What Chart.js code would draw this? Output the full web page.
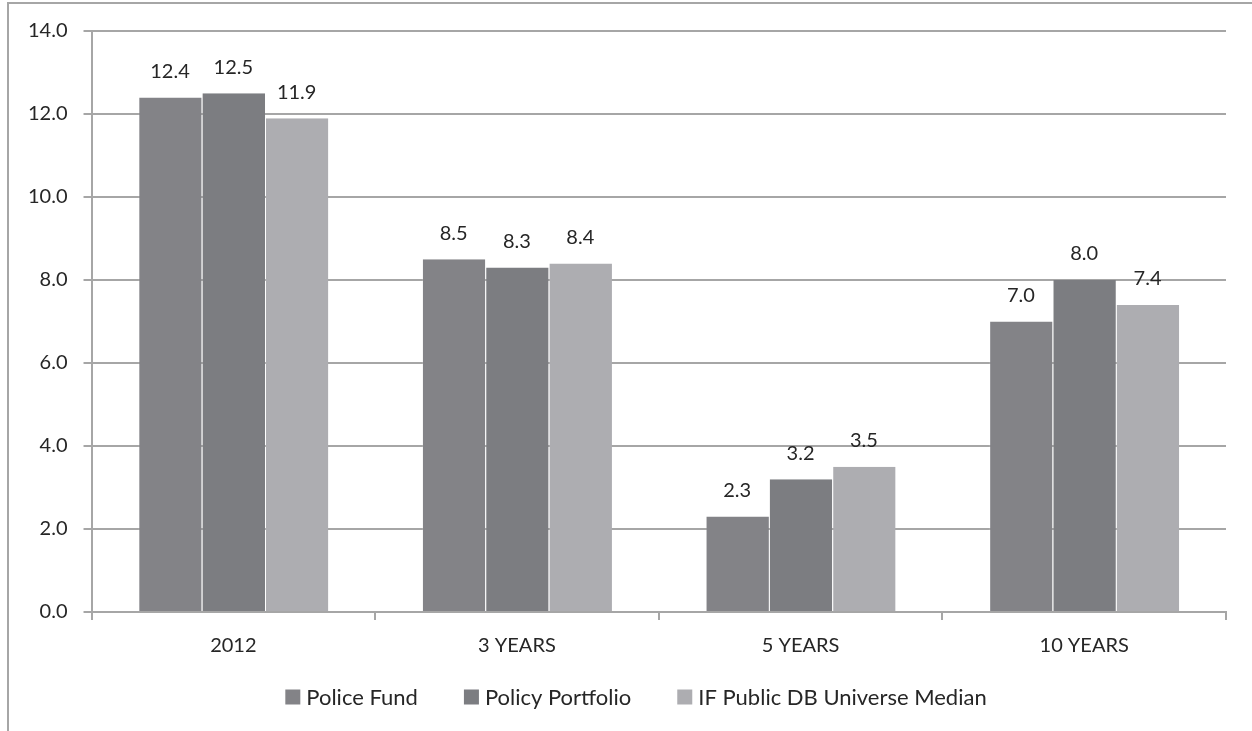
<!DOCTYPE html>
<html>
<head>
<meta charset="utf-8">
<script src="https://cdn.jsdelivr.net/npm/chart.js@4/dist/chart.umd.min.js"></script>
<style>
  html, body { margin: 0; padding: 0; background: #fff; }
  #wrap { width: 1252px; height: 731px; position: relative; }
</style>
</head>
<body>
<div id="wrap"><canvas id="returnsChart"></canvas></div>
<script>
// Chart data
const categories = ['2012', '3 YEARS', '5 YEARS', '10 YEARS'];
const policeFund = [12.4, 8.5, 2.3, 7.0];
const policyPortfolio = [12.5, 8.3, 3.2, 8.0];
const universeMedian = [11.9, 8.4, 3.5, 7.4];
const seriesNames = ['Police Fund', 'Policy Portfolio', 'IF Public DB Universe Median'];
const seriesColors = ['#838387', '#7c7d81', '#adadb1'];
const yTicks = [0, 2, 4, 6, 8, 10, 12, 14];

const FONT = 'Lato, "Open Sans", sans-serif';
const TEXT_COLOR = '#262626';

// Value labels above each bar
const barLabels = {
    id: 'barLabels',
    afterDatasetsDraw(chart) {
        const ctx = chart.ctx;
        ctx.save();
        ctx.font = '20px ' + FONT;
        ctx.fillStyle = TEXT_COLOR;
        ctx.textAlign = 'center';
        ctx.textBaseline = 'middle';
        chart.data.datasets.forEach((ds, i) => {
            chart.getDatasetMeta(i).data.forEach((bar, j) => {
                ctx.fillText(ds.data[j].toFixed(1), bar.x, bar.y - 26);
            });
        });
        ctx.restore();
    }
};

// Legend row under the axis, drawn by hand to get Excel-like spacing
const bottomLegend = {
    id: 'bottomLegend',
    afterDraw(chart) {
        const ctx = chart.ctx;
        const box = 15, gapText = 6, gapItem = 46, y = 697, centerX = 636;
        ctx.save();
        ctx.font = '22px ' + FONT;
        const widths = chart.data.datasets.map(ds => ctx.measureText(ds.label).width);
        const total = widths.reduce((s, w) => s + box + gapText + w, 0) + gapItem * (widths.length - 1);
        let x = centerX - total / 2;
        ctx.textBaseline = 'middle';
        ctx.textAlign = 'left';
        chart.data.datasets.forEach((ds, i) => {
            ctx.fillStyle = ds.backgroundColor;
            ctx.fillRect(x, y - box / 2, box, box);
            x += box + gapText;
            ctx.fillStyle = TEXT_COLOR;
            ctx.fillText(ds.label, x, y + 1);
            x += widths[i] + gapItem;
        });
        ctx.restore();
    }
};

// Outer frame (top and left edges visible)
const frame = {
    id: 'frame',
    beforeDraw(chart) {
        const ctx = chart.ctx;
        ctx.save();
        ctx.strokeStyle = '#a6a6a6';
        ctx.lineWidth = 2;
        ctx.beginPath();
        ctx.moveTo(8, 731);
        ctx.lineTo(8, 3);
        ctx.lineTo(1252, 3);
        ctx.stroke();
        ctx.restore();
    }
};

function makeDataset(label, data, color) {
    return {
        label: label,
        data: data,
        backgroundColor: color,
        borderColor: 'rgba(255,255,255,0.15)',
        borderWidth: { left: 1, right: 0, top: 0, bottom: 0 },
        categoryPercentage: 0.67,
        barPercentage: 1.0
    };
}

new Chart(document.getElementById('returnsChart'), {
    type: 'bar',
    data: {
        labels: categories,
        datasets: seriesNames.map((name, i) =>
            makeDataset(name, [policeFund, policyPortfolio, universeMedian][i], seriesColors[i]))
    },
    options: {
        responsive: true,
        maintainAspectRatio: false,
        animation: false,
        layout: { padding: { left: 12, right: 26, top: 31, bottom: 59 } },
        plugins: {
            legend: { display: false },
            tooltip: { enabled: false }
        },
        scales: {
            x: {
                offset: true,
                grid: {
                    offset: true,
                    drawOnChartArea: false,
                    color: '#a6a6a6',
                    lineWidth: 2,
                    tickLength: 8
                },
                border: { color: '#a6a6a6', width: 2 },
                ticks: {
                    font: { family: FONT, size: 20 },
                    color: TEXT_COLOR,
                    padding: 14
                }
            },
            y: {
                min: 0,
                max: 14,
                afterBuildTicks(axis) {
                    axis.ticks = yTicks.map(v => ({ value: v }));
                },
                grid: {
                    color: '#a6a6a6',
                    lineWidth: 2,
                    tickLength: 8
                },
                border: { color: '#a6a6a6', width: 2 },
                ticks: {
                    font: { family: FONT, size: 20 },
                    color: TEXT_COLOR,
                    padding: 16,
                    callback: v => v.toFixed(1)
                }
            }
        }
    },
    plugins: [frame, barLabels, bottomLegend]
});
</script>
</body>
</html>
